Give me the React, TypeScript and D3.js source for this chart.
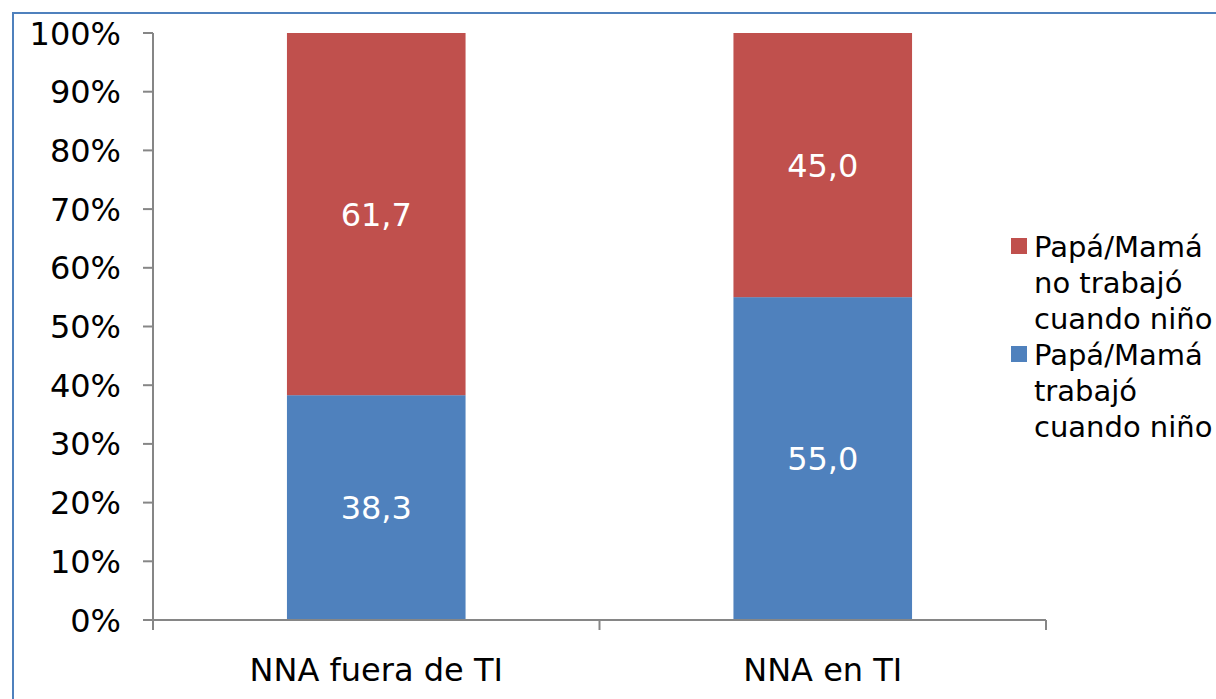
import React from "react";
import * as d3 from "d3";

const categories = ["NNA fuera de TI", "NNA en TI"];
const trabajo = [38.3, 55.0];
const noTrabajo = [61.7, 45.0];
const seriesNames = [
  ["Papá/Mamá", "no trabajó", "cuando niño"],
  ["Papá/Mamá", "trabajó", "cuando niño"],
];
const yTicks = [0, 10, 20, 30, 40, 50, 60, 70, 80, 90, 100];

const W = 1216;
const H = 699;
const left = 153;
const right = 1046;
const top = 33;
const bottom = 620;
const font = "Verdana, 'DejaVu Sans', sans-serif";
const RED = "#c0504d";
const BLUE = "#4f81bd";

export default function App() {
  const x = d3.scaleBand<string>().domain(categories).range([left, right]).paddingInner(0.6).paddingOuter(0.3);
  const band = d3.scaleBand<string>().domain(categories).range([left, right]);
  const y = d3.scaleLinear().domain([0, 100]).range([bottom, top]);
  const fmt = (v: number) => v.toFixed(1).replace(".", ",");

  const stacks = categories.map((c, i) => {
    const total = trabajo[i] + noTrabajo[i];
    const b = (trabajo[i] / total) * 100;
    return { c, segs: [
      { y0: 0, y1: b, v: trabajo[i], color: BLUE },
      { y0: b, y1: 100, v: noTrabajo[i], color: RED },
    ] };
  });

  const bounds = [left, ...categories.map((c) => (band(c) as number) + band.bandwidth())];

  return (
    <svg width={W} height={H} style={{ position: "absolute", left: 0, top: 0, background: "#fff" }} fontFamily={font}>
      <rect x={13} y={13} width={W + 20} height={H + 20} fill="#fff" stroke={BLUE} strokeWidth={2} />
      {stacks.map((s) =>
        s.segs.map((g, j) => (
          <g key={s.c + j}>
            <rect x={x(s.c)} y={y(g.y1)} width={x.bandwidth()} height={y(g.y0) - y(g.y1)} fill={g.color} />
            <text x={(x(s.c) as number) + x.bandwidth() / 2} y={(y(g.y0) + y(g.y1)) / 2} dy="0.36em" textAnchor="middle" fill="#fff" fontSize={32}>
              {fmt(g.v)}
            </text>
          </g>
        ))
      )}
      <line x1={left} x2={left} y1={top} y2={bottom} stroke="#868686" strokeWidth={2} />
      <line x1={left} x2={right} y1={bottom} y2={bottom} stroke="#868686" strokeWidth={2} />
      {yTicks.map((t) => (
        <g key={t}>
          <line x1={left - 10} x2={left} y1={y(t)} y2={y(t)} stroke="#868686" strokeWidth={2} />
          <text x={left - 32} y={y(t)} dy="0.36em" textAnchor="end" fontSize={32} fill="#000">{t}%</text>
        </g>
      ))}
      {bounds.map((b, i) => (
        <line key={i} x1={b} x2={b} y1={bottom} y2={bottom + 10} stroke="#868686" strokeWidth={2} />
      ))}
      {categories.map((c) => (
        <text key={c} x={(band(c) as number) + band.bandwidth() / 2} y={669} dy="0.36em" textAnchor="middle" fontSize={32} fill="#000">{c}</text>
      ))}
      {[RED, BLUE].map((col, i) => (
        <g key={col}>
          <rect x={1011} y={238 + i * 108} width={16} height={16} fill={col} />
          {seriesNames[i].map((ln, k) => (
            <text key={k} x={1034} y={247 + i * 108 + k * 36} dy="0.36em" fontSize={29} fill="#000">{ln}</text>
          ))}
        </g>
      ))}
    </svg>
  );
}
